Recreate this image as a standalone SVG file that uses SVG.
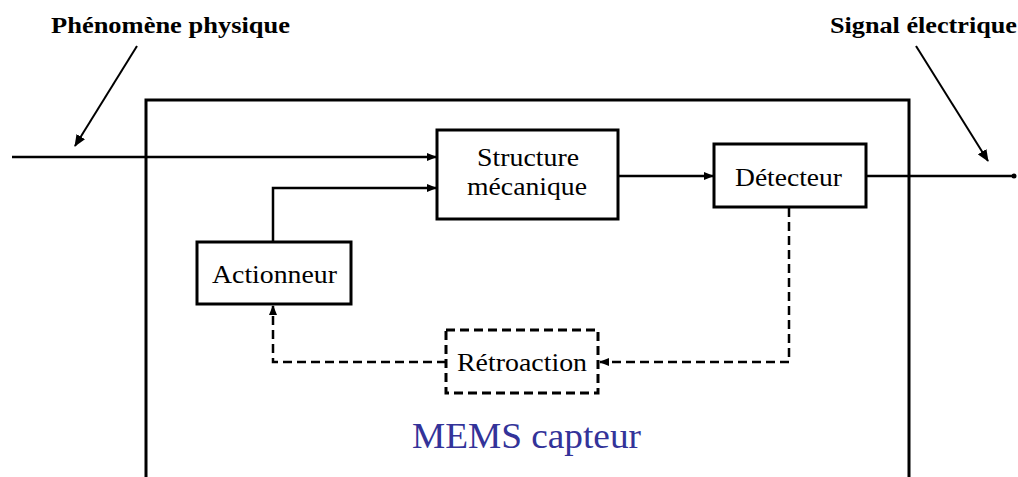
<svg xmlns="http://www.w3.org/2000/svg" width="1018" height="477" viewBox="0 0 1018 477">
<style>
  .box{fill:#fff;stroke:#000;stroke-width:3}
  .dbox{fill:#fff;stroke:#000;stroke-width:3;stroke-dasharray:9 5}
  .ln{fill:none;stroke:#000;stroke-width:2.5}
  .dl{fill:none;stroke:#000;stroke-width:2.5;stroke-dasharray:9 5}
  .pt{fill:none;stroke:#000;stroke-width:2}
  text{font-family:'Liberation Serif',serif}
  .t{font-size:26px;fill:#000}
  .lab{font-size:24px;font-weight:bold;fill:#000}
  .title{font-size:35px;fill:#333399}
</style>
<defs>
  <marker id="ah" markerWidth="10" markerHeight="8" refX="9" refY="4" orient="auto" markerUnits="userSpaceOnUse">
    <path d="M0,0 L10,4 L0,8 Z" fill="#000"/>
  </marker>
  <marker id="ahp" markerWidth="12" markerHeight="10" refX="11" refY="5" orient="auto" markerUnits="userSpaceOnUse">
    <path d="M0,0 L12,5 L0,10 Z" fill="#000"/>
  </marker>
</defs>
<rect width="1018" height="477" fill="#fff"/>

<g id="mems-frame">
  <path d="M146,480 V100 H909 V480" fill="none" stroke="#000" stroke-width="3"/>
  <text class="title" x="412" y="448" textLength="229" lengthAdjust="spacingAndGlyphs">MEMS capteur</text>
</g>

<g id="connectors">
  <line class="ln" x1="12" y1="157" x2="436" y2="157" marker-end="url(#ah)"/>
  <polyline class="ln" points="273,242 273,188 436,188" marker-end="url(#ah)"/>
  <line class="ln" x1="618" y1="176" x2="713" y2="176" marker-end="url(#ah)"/>
  <line class="ln" x1="866" y1="176" x2="1013" y2="176"/>
  <circle cx="1014" cy="176" r="2.5" fill="#000"/>
  <polyline class="dl" points="789,208 789,362 600,362" marker-end="url(#ah)"/>
  <polyline class="dl" points="446,362 273,362 273,306" marker-end="url(#ah)"/>
  <line class="pt" x1="137" y1="46" x2="75" y2="146" marker-end="url(#ahp)"/>
  <line class="pt" x1="916" y1="46" x2="988" y2="161" marker-end="url(#ahp)"/>
</g>

<g id="label-phenomene">
  <text class="lab" x="51" y="33" textLength="239" lengthAdjust="spacingAndGlyphs">Phénomène physique</text>
</g>
<g id="label-signal">
  <text class="lab" x="830" y="33" textLength="187" lengthAdjust="spacingAndGlyphs">Signal électrique</text>
</g>

<g id="structure">
  <rect class="box" x="437" y="130" width="181" height="89"/>
  <text class="t" x="477" y="166" textLength="102" lengthAdjust="spacingAndGlyphs">Structure</text>
  <text class="t" x="467" y="195" textLength="120" lengthAdjust="spacingAndGlyphs">mécanique</text>
</g>

<g id="detecteur">
  <rect class="box" x="714" y="144" width="152" height="63"/>
  <text class="t" x="735" y="186" textLength="107" lengthAdjust="spacingAndGlyphs">Détecteur</text>
</g>

<g id="actionneur">
  <rect class="box" x="197" y="242" width="154" height="62"/>
  <text class="t" x="212" y="283" textLength="125" lengthAdjust="spacingAndGlyphs">Actionneur</text>
</g>

<g id="retroaction">
  <rect class="dbox" x="446" y="330" width="152" height="63"/>
  <text class="t" x="457" y="371" textLength="130" lengthAdjust="spacingAndGlyphs">Rétroaction</text>
</g>
</svg>
